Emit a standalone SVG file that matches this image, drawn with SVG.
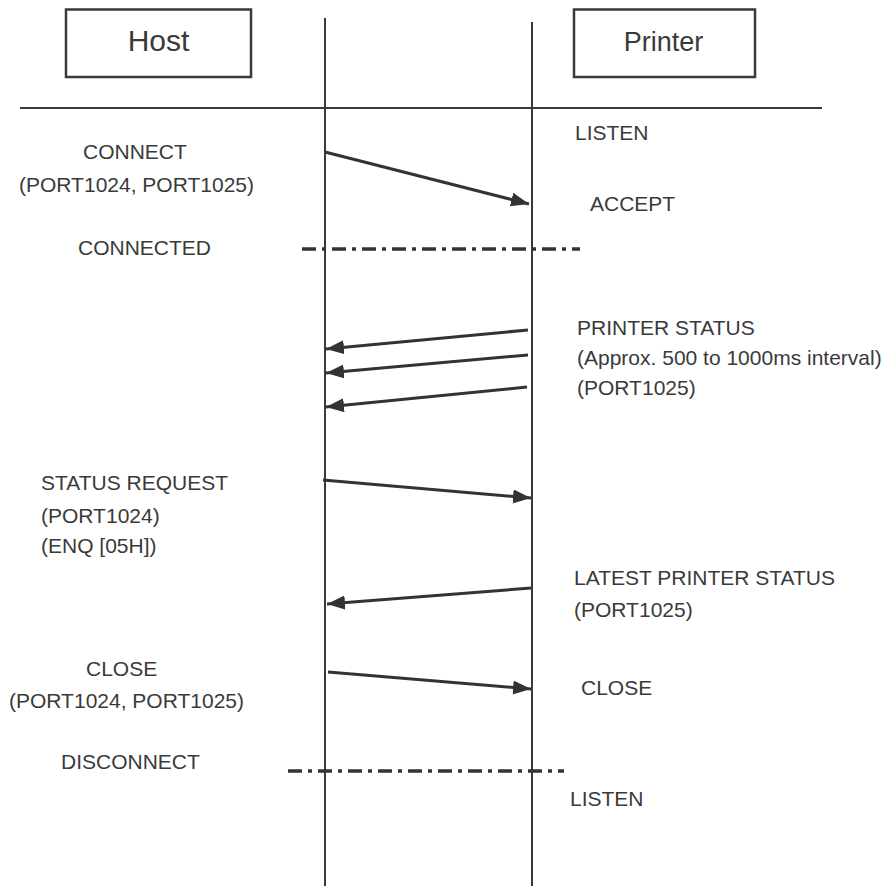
<svg xmlns="http://www.w3.org/2000/svg" width="889" height="886" viewBox="0 0 889 886">
<style>
text{font-family:"Liberation Sans",Arial,sans-serif;font-size:21px;fill:#3a3a3a}
.box{fill:#fff;stroke:#3a3a3a;stroke-width:2.5}
.life{stroke:#3a3a3a;stroke-width:2;fill:none}
.msg{stroke:#333;stroke-width:3;fill:none;marker-end:url(#ah)}
.dd{stroke:#333;stroke-width:3.5;fill:none;stroke-dasharray:14 6 4 6}
</style>
<defs>
<marker id="ah" markerUnits="userSpaceOnUse" markerWidth="20" markerHeight="16" refX="18" refY="7" orient="auto"><path d="M0,0 L18,7 L0,14 Z" fill="#333"/></marker>
</defs>
<rect width="889" height="886" fill="#fff"/>
<g id="host">
<rect class="box" x="66" y="9.5" width="185" height="67.5"/>
<text x="158.5" y="51" text-anchor="middle" style="font-size:30px">Host</text>
</g>
<g id="printer">
<rect class="box" x="574" y="9.5" width="181" height="67.5"/>
<text x="663.5" y="51" text-anchor="middle" style="font-size:27px">Printer</text>
</g>
<g id="lifelines">
<line class="life" x1="20" y1="108" x2="822" y2="108"/>
<line class="life" x1="325" y1="18" x2="325" y2="886"/>
<line class="life" x1="532" y1="22" x2="532" y2="886"/>
</g>
<g id="connectors">
<line class="msg" x1="325" y1="152" x2="529" y2="204"/>
<line class="dd" x1="302" y1="249" x2="580" y2="249"/>
<line class="msg" x1="528" y1="330" x2="326" y2="349"/>
<line class="msg" x1="528" y1="355" x2="326" y2="373"/>
<line class="msg" x1="527" y1="387" x2="326" y2="407"/>
<line class="msg" x1="323" y1="480" x2="531" y2="498"/>
<line class="msg" x1="531" y1="588" x2="327" y2="604"/>
<line class="msg" x1="328" y1="672" x2="531" y2="689"/>
<line class="dd" x1="288" y1="771" x2="564" y2="771"/>
</g>
<g id="labels">
<text x="575" y="140">LISTEN</text>
<text x="83" y="159">CONNECT</text>
<text x="19" y="192">(PORT1024, PORT1025)</text>
<text x="590" y="211">ACCEPT</text>
<text x="78" y="255">CONNECTED</text>
<text x="577" y="335">PRINTER STATUS</text>
<text x="577" y="365">(Approx. 500 to 1000ms interval)</text>
<text x="577" y="395">(PORT1025)</text>
<text x="41" y="490">STATUS REQUEST</text>
<text x="41" y="523">(PORT1024)</text>
<text x="41" y="553">(ENQ [05H])</text>
<text x="574" y="585">LATEST PRINTER STATUS</text>
<text x="574" y="617">(PORT1025)</text>
<text x="86" y="676">CLOSE</text>
<text x="9" y="708">(PORT1024, PORT1025)</text>
<text x="581" y="695">CLOSE</text>
<text x="61" y="769">DISCONNECT</text>
<text x="570" y="806">LISTEN</text>
</g>
</svg>
